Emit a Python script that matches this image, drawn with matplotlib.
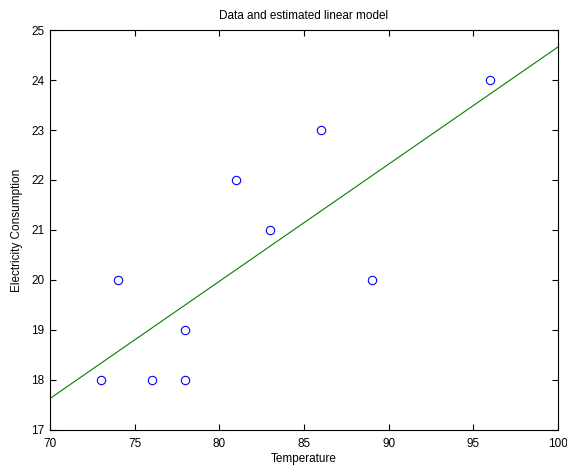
import numpy as np
import matplotlib
matplotlib.use('Agg')
import matplotlib.pyplot as plt

# measured data
temperature = [73, 74, 76, 78, 78, 81, 83, 86, 89, 96]
consumption = [18, 20, 18, 19, 18, 22, 21, 23, 20, 24]

# estimated linear model, read at the axis ends
model_x = [70, 100]
model_y = [17.63, 24.66]

plt.rcParams['font.family'] = ['Liberation Sans', 'DejaVu Sans']
plt.rcParams['font.size'] = 8.5

fig = plt.figure(figsize=(5.67, 4.66), dpi=100)
ax = fig.add_axes([0.0882, 0.0773, 0.8958, 0.8583])

ax.plot(temperature, consumption, 'o', markerfacecolor='none',
        markeredgecolor='blue', markersize=6, markeredgewidth=0.8)
ax.plot(model_x, model_y, color='green', linewidth=0.8)

ax.set_xlim(70, 100)
ax.set_ylim(17, 25)
ax.set_xticks(np.arange(70, 101, 5))
ax.set_yticks(np.arange(17, 26, 1))
ax.tick_params(direction='in', top=True, right=True, length=4, width=0.8)
ax.tick_params(axis='x', pad=6)
ax.tick_params(axis='y', pad=4)
for s in ax.spines.values():
    s.set_linewidth(0.8)

ax.set_xlabel('Temperature', labelpad=2)
ax.set_ylabel('Electricity Consumption', labelpad=6)
ax.set_title('Data and estimated linear model', fontsize=8.5, pad=8)

fig.savefig('out.png', dpi=100)
